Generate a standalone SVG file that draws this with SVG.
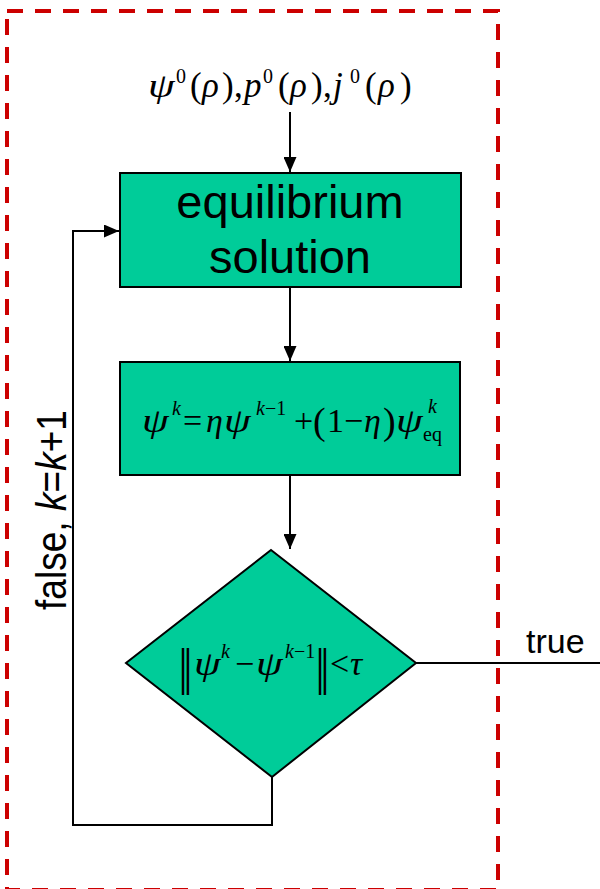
<svg xmlns="http://www.w3.org/2000/svg" width="600" height="889" viewBox="0 0 600 889">
<defs>
<marker id="ah" viewBox="0 0 10 10" refX="10" refY="5" markerWidth="15" markerHeight="13" markerUnits="userSpaceOnUse" orient="auto" preserveAspectRatio="none">
<path d="M0,0 L10,5 L0,10 z" fill="#000"/>
</marker>
<style>
.box{fill:#00CC99;stroke:#000;stroke-width:2}
.con{fill:none;stroke:#000;stroke-width:2}
.sans{font-family:"Liberation Sans",Arial,sans-serif;fill:#000}
.m{font-family:"Liberation Serif","DejaVu Serif",serif;fill:#000}
.i{font-style:italic}
.psi{font-family:"Liberation Serif","DejaVu Serif",serif;font-style:italic;font-size:33px;fill:#000}
.bar{font-family:"DejaVu Serif","Liberation Serif",serif;font-size:30px;fill:#000}
.frame{fill:none;stroke:#CC0000;stroke-width:4;stroke-dasharray:16 12}
</style>
</defs>
<rect width="600" height="889" fill="#fff"/>
<rect class="frame" x="7" y="11" width="491" height="879"/>

<g id="connectors">
<line class="con" x1="290" y1="112" x2="290" y2="172" style="marker-end:url(#ah)"/>
<line class="con" x1="290" y1="287" x2="290" y2="361" style="marker-end:url(#ah)"/>
<line class="con" x1="290" y1="475" x2="290" y2="549" style="marker-end:url(#ah)"/>
<path class="con" d="M272,777 V825 H73 V231 H119" style="marker-end:url(#ah)"/>
<line class="con" x1="416" y1="663" x2="600" y2="663"/>
</g>

<g id="input">
<text class="psi" transform="translate(148,97) scale(1.3,1)">ψ</text>
<text class="m" font-size="35" y="97">
<tspan x="176" y="83" font-size="20">0</tspan><tspan x="190" y="97">(</tspan><tspan class="i" x="202">ρ</tspan><tspan x="222">)</tspan><tspan x="234">,</tspan><tspan class="i" x="244">p</tspan><tspan x="263" y="83" font-size="20">0</tspan><tspan x="278" y="97">(</tspan><tspan class="i" x="290">ρ</tspan><tspan x="311">)</tspan><tspan x="323">,</tspan><tspan class="i" x="333">j</tspan><tspan x="350" y="83" font-size="20">0</tspan><tspan x="365" y="97">(</tspan><tspan class="i" x="378">ρ</tspan><tspan x="400">)</tspan>
</text>
</g>

<g id="equilibrium">
<rect class="box" x="120" y="173" width="341" height="114"/>
<text class="sans" font-size="47" text-anchor="middle" x="290" y="218">equilibrium</text>
<text class="sans" font-size="47" text-anchor="middle" x="290" y="273">solution</text>
</g>

<g id="update">
<rect class="box" x="120" y="362" width="340" height="113"/>
<text class="psi" transform="translate(142,432) scale(1.3,1)">ψ</text>
<text class="psi" transform="translate(224,432) scale(1.3,1)">ψ</text>
<text class="psi" transform="translate(396,432) scale(1.3,1)">ψ</text>
<text class="m" font-size="34" y="432">
<tspan class="i" x="172" y="415" font-size="20">k</tspan><tspan x="183" y="432">=</tspan><tspan class="i" x="206">η</tspan><tspan x="256" y="415" font-size="20"><tspan class="i">k</tspan>−1</tspan><tspan x="294" y="432">+</tspan><tspan x="313" font-size="38" y="434">(</tspan><tspan x="327" y="432">1</tspan><tspan x="344">−</tspan><tspan class="i" x="364">η</tspan><tspan x="383" font-size="38" y="434">)</tspan><tspan class="i" x="428" y="413" font-size="20">k</tspan><tspan x="423" y="441" font-size="20">eq</tspan>
</text>
</g>

<g id="decision">
<polygon class="box" points="271,550 416,663 272,777 126,663"/>
<text class="bar" transform="translate(178,684) scale(1,1.55)">‖</text>
<text class="psi" transform="translate(194,675) scale(1.3,1)">ψ</text>
<text class="psi" transform="translate(256,675) scale(1.3,1)">ψ</text>
<text class="bar" transform="translate(315,684) scale(1,1.55)">‖</text>
<text class="m" font-size="34" y="675">
<tspan class="i" x="221" y="658" font-size="20">k</tspan><tspan x="235" y="675">−</tspan><tspan x="285" y="658" font-size="20"><tspan class="i">k</tspan>−1</tspan><tspan x="330" y="675">&lt;</tspan><tspan class="i" x="350">τ</tspan>
</text>
</g>

<g id="labels">
<text class="sans" font-size="34" x="526" y="653">true</text>
<text class="sans" font-size="42" transform="translate(66,610) rotate(-90)" x="0" y="0" textLength="200" lengthAdjust="spacingAndGlyphs">false,  <tspan font-style="italic">k</tspan>=<tspan font-style="italic">k</tspan>+1</text>
</g>
</svg>
